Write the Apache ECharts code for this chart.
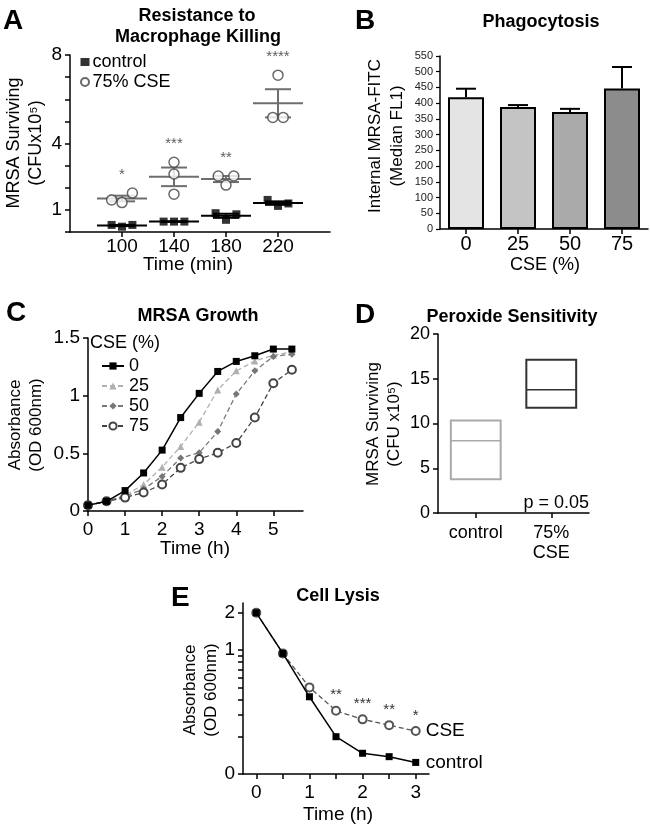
<!DOCTYPE html>
<html><head><meta charset="utf-8">
<script src="https://cdn.jsdelivr.net/npm/echarts@6/dist/echarts.min.js"></script>
<style>html,body{margin:0;padding:0;background:#fff}#c{width:650px;height:827px}</style>
</head><body><div id="c"></div>
<script>
// ---------- Panel A: Resistance to Macrophage Killing ----------
const killTimes = [100, 140, 180, 220];
const killControl = [[0.32, 0.24, 0.32], [0.47, 0.47, 0.47], [0.85, 0.55, 0.80], [1.45, 1.18, 1.29]];
const killCSE = [[1.45, 1.33, 1.76], [3.15, 2.62, 1.71], [2.53, 2.12, 2.53], [7.09, 5.18, 5.18]];
const killStars = ['*', '***', '**', '****'];
const killXTicks = [100, 140, 180, 220];
const killYTicks = [0, 1, 2, 3, 4, 5, 6, 7, 8];
const killYLabels = [1, 4, 8];
// ---------- Panel B: Phagocytosis ----------
const phagoCats = ['0', '25', '50', '75'];
const phagoMean = [419, 388, 372, 447];
const phagoErr = [27, 6, 10, 68];
const phagoYTicks = [0, 50, 100, 150, 200, 250, 300, 350, 400, 450, 500, 550];
// ---------- Panel C: MRSA Growth ----------
const growthTimes = [0, 0.5, 1, 1.5, 2, 2.5, 3, 3.5, 4, 4.5, 5, 5.5];
const growthCSE0 = [0.05, 0.084, 0.177, 0.33, 0.528, 0.81, 1.02, 1.21, 1.297, 1.346, 1.404, 1.404];
const growthCSE25 = [0.05, 0.084, 0.136, 0.23, 0.38, 0.56, 0.77, 1.05, 1.215, 1.30, 1.35, 1.38];
const growthCSE50 = [0.05, 0.084, 0.128, 0.19, 0.30, 0.46, 0.505, 0.69, 1.015, 1.215, 1.34, 1.36];
const growthCSE75 = [0.05, 0.084, 0.116, 0.16, 0.23, 0.374, 0.45, 0.505, 0.59, 0.81, 1.108, 1.224];
const growthNames = ['0', '25', '50', '75'];
const growthYTicks = [0, 0.5, 1, 1.5];
// ---------- Panel D: Peroxide Sensitivity ----------
const peroxCats = ['control', '75%\nCSE'];
const peroxLow = [3.77, 11.76];
const peroxMedian = [8.06, 13.77];
const peroxHigh = [10.33, 17.13];
const peroxP = 'p = 0.05';
const peroxYTicks = [0, 5, 10, 15, 20];
// ---------- Panel E: Cell Lysis ----------
const lysisTimes = [0, 0.5, 1, 1.5, 2, 2.5, 3];
const lysisControl = [2.0, 0.94, 0.42, 0.20, 0.147, 0.138, 0.124];
const lysisCSE = [2.0, 0.94, 0.50, 0.324, 0.276, 0.248, 0.222];
const lysisStars = ['', '', '', '**', '***', '**', '*'];
const lysisXTicks = [0, 0.5, 1, 1.5, 2, 2.5, 3];
const lysisXLabels = [0, 1, 2, 3];
const lysisYTicks = [0.1, 0.2, 0.3, 0.4, 0.5, 0.6, 0.7, 0.8, 0.9, 1, 2];
const lysisYLabels = [0.1, 1, 2];

// ---------- layout / style ----------
const FONT = '"Liberation Sans", Arial, Helvetica, sans-serif';
const JIT_CTRL = [[-8, 0, 8], [-8, 0, 8], [-8, 0, 8], [-8, 0, 8]];
const JIT_CSE = [[-8, 0, 8], [0, 0, 0], [-6, 0, 6], [0, -4, 4]];
const GRIDS = [
  { left: 70, top: 55, width: 260, height: 177 },
  { left: 440, top: 56, width: 208, height: 173 },
  { left: 88, top: 338, width: 215, height: 173 },
  { left: 438, top: 334, width: 151, height: 179 },
  { left: 243, top: 603, width: 186, height: 171 }
];
const Y_TICKS = [killYTicks, phagoYTicks, growthYTicks, peroxYTicks, lysisYTicks];

function mean(a) { return a.reduce((s, v) => s + v, 0) / a.length; }
function sem(a) { const m = mean(a); const sd = Math.sqrt(a.reduce((s, v) => s + (v - m) * (v - m), 0) / (a.length - 1)); return sd / Math.sqrt(a.length); }

function axl() { return { show: true, onZero: false, lineStyle: { color: '#000', width: 1.5 } }; }
function tk(extra) { return Object.assign({ show: true, length: 5, lineStyle: { color: '#000', width: 1.5 } }, extra || {}); }
function lbl(size, margin, extra) { return Object.assign({ color: '#000', fontSize: size, fontFamily: FONT, margin: margin }, extra || {}); }

const chart = echarts.init(document.getElementById('c'), null, { renderer: 'canvas' });

function T(text, x, y, size, o) {
  o = o || {};
  return {
    type: 'text', x: x, y: y, rotation: o.rot || 0, z: 100,
    style: { text: text, fontSize: size, fontWeight: o.bold ? 'bold' : 'normal', fontFamily: FONT, fill: o.color || '#000', align: o.align || 'center', verticalAlign: 'middle' }
  };
}
const R = Math.PI / 2;

const meanSemRender = function (color) {
  return function (params, api) {
    const x = api.value(0), m = api.value(1), s = api.value(2);
    const c = api.coord([x, m]);
    const top = api.coord([x, m + s]), bot = api.coord([x, m - s]);
    const st = { stroke: color, lineWidth: 2 };
    return { type: 'group', children: [
      { type: 'line', shape: { x1: c[0] - 25, y1: c[1], x2: c[0] + 25, y2: c[1] }, style: st },
      { type: 'line', shape: { x1: top[0], y1: top[1], x2: bot[0], y2: bot[1] }, style: st },
      { type: 'line', shape: { x1: top[0] - 13, y1: top[1], x2: top[0] + 13, y2: top[1] }, style: st },
      { type: 'line', shape: { x1: bot[0] - 13, y1: bot[1], x2: bot[0] + 13, y2: bot[1] }, style: st }
    ] };
  };
};

const ctrlPts = [], csePts = [], ctrlStats = [], cseStats = [], starPts = [];
killTimes.forEach((t, i) => {
  killControl[i].forEach((v, j) => ctrlPts.push([t + JIT_CTRL[i][j], v]));
  killCSE[i].forEach((v, j) => csePts.push([t + JIT_CSE[i][j], v]));
  ctrlStats.push([t, mean(killControl[i]), sem(killControl[i])]);
  cseStats.push([t, mean(killCSE[i]), sem(killCSE[i])]);
  starPts.push({ value: [t, Math.max.apply(null, killCSE[i])], label: { formatter: killStars[i] } });
});

const option = {
  animation: false,
  backgroundColor: '#fff',
  textStyle: { fontFamily: FONT },
  grid: GRIDS,
  xAxis: [
    { gridIndex: 0, type: 'value', min: 60, max: 260, axisLine: axl(), axisTick: tk({ customValues: killXTicks }), splitLine: { show: false }, axisLabel: lbl(19, 5, { customValues: killXTicks }) },
    { gridIndex: 1, type: 'category', data: phagoCats, axisLine: axl(), axisTick: tk({ alignWithLabel: true }), axisLabel: lbl(20, 5) },
    { gridIndex: 2, type: 'value', min: 0, max: 5.8, interval: 1, axisLine: axl(), axisTick: tk(), splitLine: { show: false }, axisLabel: lbl(19, 9, { showMaxLabel: false }) },
    { gridIndex: 3, type: 'category', data: peroxCats, axisLine: axl(), axisTick: tk({ alignWithLabel: true }), axisLabel: lbl(18, 10, { lineHeight: 20 }) },
    { gridIndex: 4, type: 'value', min: -0.25, max: 3.25, axisLine: axl(), axisTick: tk({ customValues: lysisXTicks }), splitLine: { show: false }, axisLabel: lbl(19, 9, { customValues: lysisXLabels }) }
  ],
  yAxis: [
    { gridIndex: 0, type: 'value', min: 0, max: 8, interval: 1, axisLine: axl(), axisTick: tk(), splitLine: { show: false }, axisLabel: lbl(19, 8, { customValues: killYLabels }) },
    { gridIndex: 1, type: 'value', min: 0, max: 550, interval: 50, axisLine: axl(), axisTick: tk({ length: 4, lineStyle: { color: '#000', width: 1.2 } }), splitLine: { show: false }, axisLabel: lbl(11, 7, { color: '#222' }) },
    { gridIndex: 2, type: 'value', min: 0, max: 1.5, interval: 0.5, axisLine: axl(), axisTick: tk(), splitLine: { show: false }, axisLabel: lbl(19, 8) },
    { gridIndex: 3, type: 'value', min: 0, max: 20, interval: 5, axisLine: axl(), axisTick: tk(), splitLine: { show: false }, axisLabel: lbl(18, 8) },
    { gridIndex: 4, type: 'log', logBase: 10, min: 0.1, max: 2.4, axisLine: axl(), axisTick: tk({ customValues: lysisYTicks }), splitLine: { show: false }, minorTick: { show: false },
      axisLabel: lbl(19, 8, { customValues: lysisYLabels, formatter: v => (v < 0.5 ? '0' : String(Math.round(v))) }) }
  ],
  legend: [
    { data: ['control', '75% CSE'], orient: 'vertical', left: 80, top: 53, padding: 0, itemWidth: 9, itemHeight: 8, itemGap: 2,
      textStyle: { fontSize: 18, fontFamily: FONT, color: '#000', lineHeight: 17, padding: [0, 0, 0, -2] } },
    { data: growthNames, orient: 'vertical', left: 101, top: 357, padding: 0, itemWidth: 22, itemHeight: 9, itemGap: 2,
      textStyle: { fontSize: 18, fontFamily: FONT, color: '#000', lineHeight: 17 } }
  ],
  series: [
    { type: 'custom', name: 'ctrlMean', xAxisIndex: 0, yAxisIndex: 0, data: ctrlStats, renderItem: meanSemRender('#000'), z: 2 },
    { type: 'custom', name: 'cseMean', xAxisIndex: 0, yAxisIndex: 0, data: cseStats, renderItem: meanSemRender('#6e6e6e'), z: 2 },
    { type: 'scatter', name: 'control', xAxisIndex: 0, yAxisIndex: 0, data: ctrlPts, symbol: 'rect', symbolSize: 8, itemStyle: { color: '#000' }, z: 3 },
    { type: 'scatter', name: '75% CSE', xAxisIndex: 0, yAxisIndex: 0, data: csePts, symbol: 'circle', symbolSize: 10, itemStyle: { color: '#fff', borderColor: '#444', borderWidth: 1.5 }, z: 4 },
    { type: 'scatter', name: 'stars', xAxisIndex: 0, yAxisIndex: 0, data: starPts, symbol: 'circle', symbolSize: 1, itemStyle: { color: 'rgba(0,0,0,0)' },
      label: { show: true, position: 'top', distance: 10, fontSize: 15, color: '#333', fontFamily: FONT } },
    { type: 'bar', name: 'phago', xAxisIndex: 1, yAxisIndex: 1, barWidth: 36,
      data: phagoMean.map((v, i) => ({ value: v, itemStyle: { color: ['#e4e4e4', '#c4c4c4', '#aaaaaa', '#8c8c8c'][i] } })),
      itemStyle: { borderColor: '#000', borderWidth: 2 } },
    { type: 'custom', name: 'phagoErr', xAxisIndex: 1, yAxisIndex: 1, z: 1,
      data: phagoMean.map((v, i) => [i, v, phagoErr[i]]),
      renderItem: function (params, api) {
        const b = api.coord([api.value(0), api.value(1)]);
        const t = api.coord([api.value(0), api.value(1) + api.value(2)]);
        const st = { stroke: '#000', lineWidth: 2 };
        return { type: 'group', children: [
          { type: 'line', shape: { x1: b[0], y1: b[1], x2: t[0], y2: t[1] }, style: st },
          { type: 'line', shape: { x1: t[0] - 10, y1: t[1], x2: t[0] + 10, y2: t[1] }, style: st }
        ] };
      } },
    { type: 'line', name: '0', xAxisIndex: 2, yAxisIndex: 2, data: growthTimes.map((t, i) => [t, growthCSE0[i]]),
      symbol: 'rect', symbolSize: 7, lineStyle: { color: '#000', width: 1.5 }, itemStyle: { color: '#000' }, z: 5 },
    { type: 'line', name: '25', xAxisIndex: 2, yAxisIndex: 2, data: growthTimes.map((t, i) => [t, growthCSE25[i]]),
      symbol: 'triangle', symbolSize: 7, lineStyle: { color: '#b0b0b0', width: 1.3, type: [5, 3] }, itemStyle: { color: '#b0b0b0' }, z: 3 },
    { type: 'line', name: '50', xAxisIndex: 2, yAxisIndex: 2, data: growthTimes.map((t, i) => [t, growthCSE50[i]]),
      symbol: 'diamond', symbolSize: 7, lineStyle: { color: '#777', width: 1.3, type: [5, 3] }, itemStyle: { color: '#777' }, z: 4 },
    { type: 'line', name: '75', xAxisIndex: 2, yAxisIndex: 2, data: growthTimes.map((t, i) => [t, growthCSE75[i]]),
      symbol: 'emptyCircle', symbolSize: 8, lineStyle: { color: '#444', width: 1.3, type: [5, 3] }, itemStyle: { color: '#444', borderWidth: 1.2 }, z: 4 },
    { type: 'custom', name: 'perox', xAxisIndex: 3, yAxisIndex: 3,
      data: peroxLow.map((v, i) => [i, v, peroxMedian[i], peroxHigh[i]]),
      renderItem: function (params, api) {
        const i = api.value(0);
        const lo = api.coord([i, api.value(1)]), md = api.coord([i, api.value(2)]), hi = api.coord([i, api.value(3)]);
        const w = api.size([1, 0])[0] * 0.66;
        const color = i === 0 ? '#aaa' : '#333';
        const st = { stroke: color, lineWidth: 2, fill: null };
        return { type: 'group', children: [
          { type: 'rect', shape: { x: lo[0] - w / 2, y: hi[1], width: w, height: lo[1] - hi[1] }, style: st },
          { type: 'line', shape: { x1: md[0] - w / 2, y1: md[1], x2: md[0] + w / 2, y2: md[1] }, style: { stroke: color, lineWidth: 1.5 } }
        ] };
      } },
    { type: 'line', name: 'CSE', xAxisIndex: 4, yAxisIndex: 4, data: lysisTimes.map((t, i) => ({ value: [t, lysisCSE[i]], label: { show: !!lysisStars[i], formatter: lysisStars[i] } })),
      symbol: 'emptyCircle', symbolSize: 8, lineStyle: { color: '#555', width: 1.3, type: [5, 3] }, itemStyle: { color: '#555', borderWidth: 1.2 }, z: 3,
      label: { position: 'top', distance: 3, fontSize: 15, color: '#333', fontFamily: FONT },
      endLabel: { show: true, formatter: 'CSE', fontSize: 19, color: '#000', fontFamily: FONT, distance: 10 } },
    { type: 'line', name: 'control', xAxisIndex: 4, yAxisIndex: 4, data: lysisTimes.map((t, i) => [t, lysisControl[i]]),
      symbol: 'rect', symbolSize: 7, lineStyle: { color: '#000', width: 1.5 }, itemStyle: { color: '#000' }, z: 6,
      endLabel: { show: true, formatter: 'control', fontSize: 19, color: '#000', fontFamily: FONT, distance: 10 } }
  ],
  graphic: [
    T('A', 3, 21, 28, { bold: true, align: 'left' }),
    T('B', 355, 21, 28, { bold: true, align: 'left' }),
    T('C', 6, 313, 28, { bold: true, align: 'left' }),
    T('D', 355, 315, 28, { bold: true, align: 'left' }),
    T('E', 171, 598, 28, { bold: true, align: 'left' }),
    T('Resistance to', 197, 16, 18, { bold: true }),
    T('Macrophage Killing', 198, 37, 18, { bold: true }),
    T('Phagocytosis', 541, 22, 18, { bold: true }),
    T('MRSA Growth', 198, 316, 18, { bold: true }),
    T('Peroxide Sensitivity', 512, 317, 18, { bold: true }),
    T('Cell Lysis', 338, 596, 18, { bold: true }),
    T('MRSA Surviving', 14, 143, 18, { rot: R }),
    T('(CFUx10\u2075)', 36, 143, 18, { rot: R }),
    T('Internal MRSA-FITC', 375, 136, 17, { rot: R }),
    T('(Median FL1)', 397, 136, 17, { rot: R }),
    T('Absorbance', 15, 425, 17, { rot: R }),
    T('(OD 600nm)', 36, 425, 17, { rot: R }),
    T('MRSA Surviving', 373, 424, 17, { rot: R }),
    T('(CFU x10\u2075)', 394, 424, 17, { rot: R }),
    T('Absorbance', 190, 690, 17, { rot: R }),
    T('(OD 600nm)', 211, 690, 17, { rot: R }),
    T('Time (min)', 188, 265, 19),
    T('CSE (%)', 545, 265, 18),
    T('Time (h)', 195, 549, 19),
    T('Time (h)', 338, 815, 19),
    T('CSE (%)', 90, 343, 18, { align: 'left' }),
    T(peroxP, 589, 503, 18, { align: 'right' })
  ]
};
chart.setOption(option);

// Make sure every y axis line and its ticks end up on screen at the grid's left edge;
// tick positions come from the library's own y scale (convertToPixel).
const disp = chart.getZr().storage.getDisplayList(true);
const verts = disp.filter(el => el.shape && el.shape.x1 !== undefined && Math.abs(el.shape.x1 - el.shape.x2) < 0.5 && Math.abs(el.shape.y1 - el.shape.y2) > 100);
const extra = [];
GRIDS.forEach((g, gi) => {
  const found = verts.some(el => Math.abs(el.shape.x1 - g.left) < 1.5 && !el.invisible && !el.ignore);
  if (!found) {
    extra.push({ type: 'line', z: 50, shape: { x1: g.left, y1: g.top, x2: g.left, y2: g.top + g.height }, style: { stroke: '#000', lineWidth: 1.5 } });
    Y_TICKS[gi].forEach(v => {
      const py = chart.convertToPixel({ yAxisIndex: gi }, v);
      extra.push({ type: 'line', z: 50, shape: { x1: g.left - 5, y1: py, x2: g.left, y2: py }, style: { stroke: '#000', lineWidth: gi === 1 ? 1.2 : 1.5 } });
    });
  }
});
if (extra.length) chart.setOption({ graphic: option.graphic.concat(extra) });
</script>
</body></html>
